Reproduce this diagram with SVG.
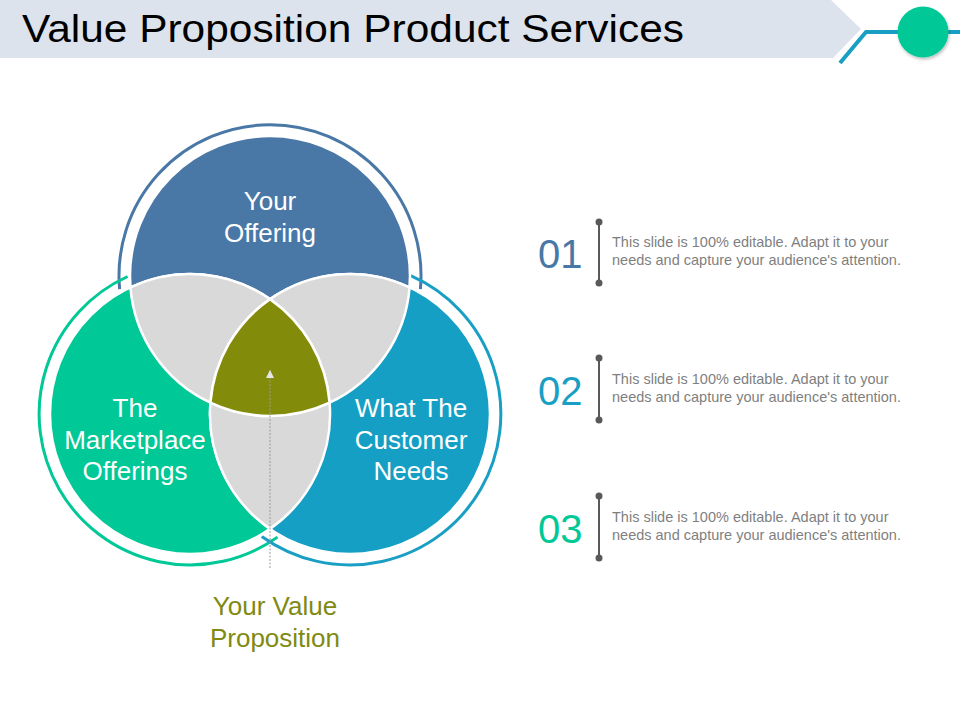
<svg xmlns="http://www.w3.org/2000/svg" width="960" height="720" viewBox="0 0 960 720">
<defs>
<style>
.t{font-family:"Liberation Sans",Arial,sans-serif}
.lbl{font-size:26px;fill:#ffffff;text-anchor:middle}
.num{font-size:40px}
.desc{font-size:14.5px;fill:#7f7f7f}
.seg{fill:#d9d9d9;stroke:#ffffff;stroke-width:2.5}
.ring{fill:none;stroke-width:3}
.vl{stroke:#595959;stroke-width:2}
.dot{fill:#595959}
</style>
<marker id="ah" viewBox="0 0 8 8" refX="8" refY="4" markerWidth="8" markerHeight="8" orient="auto" markerUnits="userSpaceOnUse">
<path d="M0,0 L8,4 L0,8 Z" fill="#e6e6e6"/>
</marker>
<filter id="sh" x="-30%" y="-30%" width="160%" height="160%">
<feDropShadow dx="1" dy="2" stdDeviation="1.5" flood-color="#000" flood-opacity="0.25"/>
</filter>
</defs>
<rect width="960" height="720" fill="#ffffff"/>

<g id="header">
<polygon points="0,0 831,0 861,29 833,58 0,58" fill="#dce3ec"/>
<polyline points="840,63 866,32 960,32" fill="none" stroke="#1a9fc4" stroke-width="4"/>
<circle cx="923" cy="32" r="25.5" fill="#00c896" filter="url(#sh)"/>
<text class="t" x="22" y="42" font-size="38" fill="#000000" textLength="662" lengthAdjust="spacingAndGlyphs">Value Proposition Product Services</text>
</g>

<g id="venn">
<g id="ring-top"><path class="ring" stroke="#4a78a6" d="M119.6,289.2 A151,151 0 1 1 420.4,289.2"/></g>
<g id="ring-left"><path class="ring" stroke="#00c896" d="M277.5,537.1 A151,151 0 1 1 127.6,276.5"/></g>
<g id="ring-right"><path class="ring" stroke="#1a9fc4" d="M410.7,275.7 A151,151 0 1 1 261.7,536.5"/></g>

<g id="node-offering">
<circle cx="270" cy="276" r="140" fill="#4a78a6" stroke="#ffffff" stroke-width="2.5"/>
</g>
<g id="node-marketplace">
<circle cx="190" cy="414" r="140" fill="#00c896" stroke="#ffffff" stroke-width="2.5"/>
</g>
<g id="node-customer">
<circle cx="350" cy="414" r="140" fill="#159fc4" stroke="#ffffff" stroke-width="2.5"/>
</g>
<g id="overlaps">
<path class="seg" d="M130.4,287.3 A140,140 0 0 1 270,299.1 A140,140 0 0 0 210.4,402.7 A140,140 0 0 1 130.4,287.3 Z"/>
<path class="seg" d="M409.6,287.3 A140,140 0 0 0 270,299.1 A140,140 0 0 1 329.6,402.7 A140,140 0 0 0 409.6,287.3 Z"/>
<path class="seg" d="M210.4,402.7 A140,140 0 0 0 329.6,402.7 A140,140 0 0 1 270,528.9 A140,140 0 0 1 210.4,402.7 Z"/>
</g>
<g id="node-value">
<path d="M270,299.1 A140,140 0 0 1 329.6,402.7 A140,140 0 0 1 210.4,402.7 A140,140 0 0 1 270,299.1 Z" fill="#838b0a" stroke="#ffffff" stroke-width="2.5"/>
</g>
<g id="labels">
<text class="t lbl" x="270" y="210">Your</text>
<text class="t lbl" x="270" y="242">Offering</text>
<text class="t lbl" x="135" y="417">The</text>
<text class="t lbl" x="135" y="449">Marketplace</text>
<text class="t lbl" x="135" y="480">Offerings</text>
<text class="t lbl" x="411" y="417">What The</text>
<text class="t lbl" x="411" y="449">Customer</text>
<text class="t lbl" x="411" y="480">Needs</text>
</g>
</g>

<g id="connectors">
<line x1="270" y1="568" x2="270" y2="370" stroke="#9a9a9a" stroke-width="1" stroke-dasharray="2,1.5" marker-end="url(#ah)"/>
</g>

<g id="value-label">
<text class="t" x="275" y="615" font-size="26" fill="#808a10" text-anchor="middle">Your Value</text>
<text class="t" x="275" y="647" font-size="26" fill="#808a10" text-anchor="middle">Proposition</text>
</g>

<g id="item-01">
<text class="t num" x="538" y="268" fill="#4a78a6">01</text>
<line class="vl" x1="599" y1="222" x2="599" y2="283"/>
<circle class="dot" cx="599" cy="222" r="3.5"/>
<circle class="dot" cx="599" cy="283" r="3.5"/>
<text class="t desc" x="612" y="247">This slide is 100% editable. Adapt it to your</text>
<text class="t desc" x="612" y="265">needs and capture your audience's attention.</text>
</g>
<g id="item-02">
<text class="t num" x="538" y="405" fill="#1a9fc4">02</text>
<line class="vl" x1="599" y1="358" x2="599" y2="420"/>
<circle class="dot" cx="599" cy="358" r="3.5"/>
<circle class="dot" cx="599" cy="420" r="3.5"/>
<text class="t desc" x="612" y="384">This slide is 100% editable. Adapt it to your</text>
<text class="t desc" x="612" y="402">needs and capture your audience's attention.</text>
</g>
<g id="item-03">
<text class="t num" x="538" y="543" fill="#00c896">03</text>
<line class="vl" x1="599" y1="496" x2="599" y2="558"/>
<circle class="dot" cx="599" cy="496" r="3.5"/>
<circle class="dot" cx="599" cy="558" r="3.5"/>
<text class="t desc" x="612" y="522">This slide is 100% editable. Adapt it to your</text>
<text class="t desc" x="612" y="540">needs and capture your audience's attention.</text>
</g>
</svg>
